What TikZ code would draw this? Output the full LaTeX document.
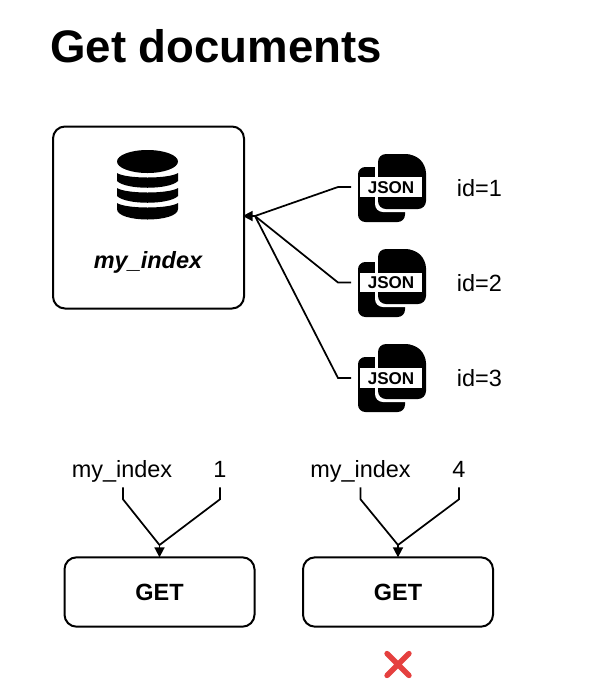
\documentclass[tikz,border=0pt]{standalone}
\usepackage{fontspec}
\setmainfont{Liberation Sans}
\usetikzlibrary{arrows.meta}
\definecolor{crossred}{HTML}{E5403F}
\tikzset{
  box/.style={draw=black,line width=1.5pt,rounded corners=9pt,fill=white,inner sep=0pt,outer sep=0pt},
  link/.style={draw=black,line width=1.3pt},
  arrowlink/.style={link,-{Triangle[length=7.5pt,width=7.5pt]}},
  param/.style={font=\fontsize{17.6}{20}\selectfont,minimum height=25.5pt,inner sep=0pt,text height=13pt,text depth=4pt},
  idtext/.style={font=\fontsize{17.6}{20}\selectfont,inner sep=0pt},
  jsontag/.style={fill=white,font=\fontsize{12.8}{15}\selectfont\bfseries,inner sep=0pt,minimum width=46pt,minimum height=14.5pt,text height=9.2pt,text depth=0pt},
  pics/jsondoc/.style={code={
    \fill[black,rounded corners=5.5pt] (-33,31) -- (-33,-24) -- (14,-24) -- (14,31) -- cycle;
    \fill[white,rounded corners=6pt] (-16,-39) -- (25,-39) -- (38,-27) -- (38,21) -- (-16,21) -- cycle;
    \fill[black,rounded corners=6pt] (-13,-37) -- (23,-37) -- (35,-26) -- (35,18) -- (-13,18) -- cycle;
  }}
}
\begin{document}
\begin{tikzpicture}[x=0.75pt,y=-0.75pt]
\useasboundingbox (0,0) rectangle (599,687);
\node[anchor=west,inner sep=0pt,font=\fontsize{34.2}{40}\selectfont\bfseries] (title) at (50,46) {Get documents};

% index box
\node[box,minimum width=143.25pt,minimum height=136.5pt] (box) at (148.5,217.5) {};
\node[font=\fontsize{17.6}{20}\selectfont\bfseries\itshape,inner sep=0pt] (idx) at (148,262.5) {my\_index};

% database icon
\fill[black] (117,203) .. controls (126,209) and (169,209) .. (178,203) -- (178,209) .. controls (178,223) and (117,223) .. (117,209) -- cycle;
\fill[black] (117,188) .. controls (126,194) and (169,194) .. (178,188) -- (178,196) .. controls (169,205) and (126,205) .. (117,196) -- cycle;
\fill[black] (117,173) .. controls (126,179) and (169,179) .. (178,173) -- (178,181) .. controls (169,190) and (126,190) .. (117,181) -- cycle;
\fill[black] (147.5,161.5) ellipse [x radius=30.5,y radius=11.5];

% JSON documents
\pic at (391,191) {jsondoc};
\pic at (391,286) {jsondoc};
\pic at (391,381) {jsondoc};
\node[jsontag] (doc1) at (391,187) {JSON};
\node[jsontag] (doc2) at (391,282.5) {JSON};
\node[jsontag] (doc3) at (391,378) {JSON};
\node[idtext] (id1) at (479.5,188) {id=1};
\node[idtext] (id2) at (479.5,283) {id=2};
\node[idtext] (id3) at (479.5,378) {id=3};

% connectors to index
\coordinate (hub) at (255,216);
\coordinate (c1) at (351,187);
\coordinate (c2) at (351,282.5);
\coordinate (c3) at (351,378);
\draw[link] (c1) -- (338,187) -- (hub);
\draw[link] (c2) -- (338,282.5) -- (hub);
\draw[link] (c3) -- (338,378) -- (hub);
\draw[arrowlink,shorten >=-1pt] (hub) -- (box.east |- hub);

% GET queries
\node[box,minimum width=142.5pt,minimum height=52pt] (get1) at (159.5,592) {\fontsize{17.6}{20}\selectfont\bfseries GET};
\node[box,minimum width=142.5pt,minimum height=52pt] (get2) at (398,592) {\fontsize{17.6}{20}\selectfont\bfseries GET};
\node[param] (a1) at (122,471) {my\_index};
\node[param] (b1) at (220,471) {1};
\node[param] (a2) at (360.5,471) {my\_index};
\node[param] (b2) at (459,471) {4};
\coordinate (m1) at (159.5,545);
\coordinate (m2) at (398,545);
\draw[link] (a1.south) ++(1,-1) -- ++(0,12) -- (m1);
\draw[link] (b1.south) ++(0,-1) -- ++(0,12) -- (m1);
\draw[arrowlink] (m1) -- (get1.north);
\draw[link] (a2.south) ++(0,-1) -- ++(0,12) -- (m2);
\draw[link] (b2.south) ++(0,-1) -- ++(0,12) -- (m2);
\draw[arrowlink] (m2) -- (get2.north);

% red cross
\draw[crossred,line width=4pt,line cap=round] (387,653.5) -- (409,675.5) (409,653.5) -- (387,675.5);
\end{tikzpicture}
\end{document}
